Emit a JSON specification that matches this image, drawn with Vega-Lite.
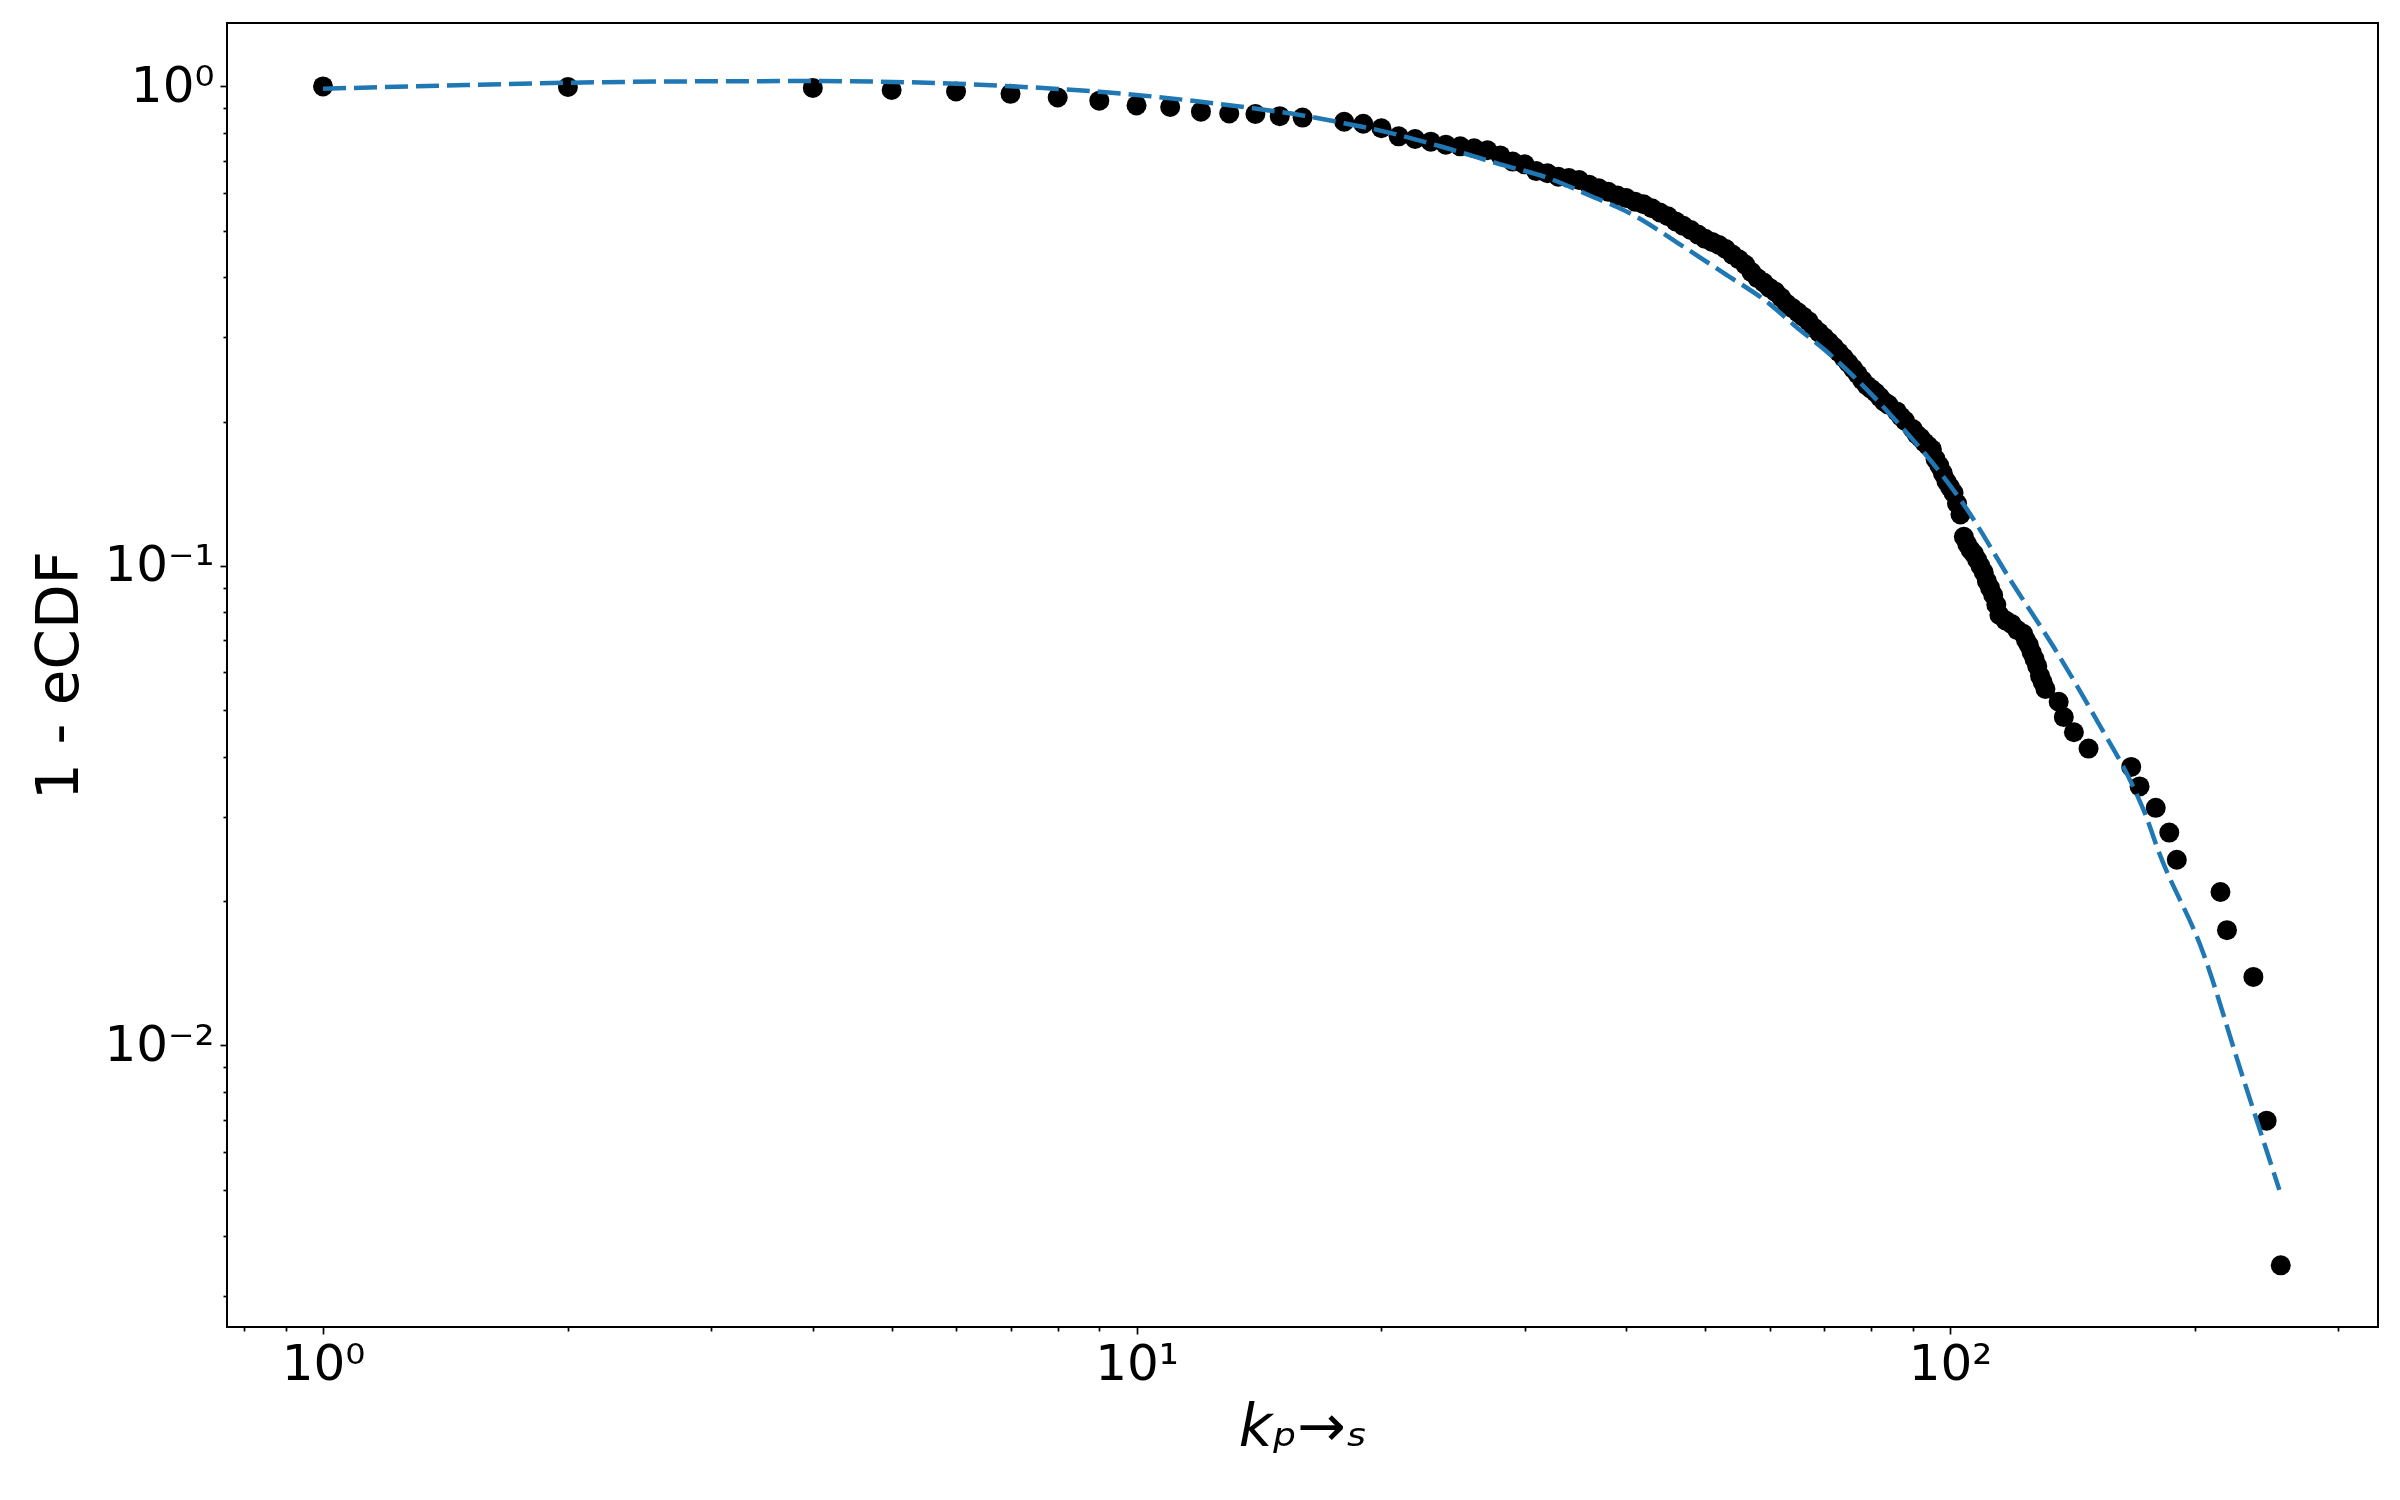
{
  "$schema": "https://vega.github.io/schema/vega-lite/v6.json",
  "width": 2151,
  "height": 1304,
  "autosize": {"type": "none"},
  "padding": {"left": 227, "top": 23, "right": 22, "bottom": 173},
  "background": "white",
  "config": {
    "view": {"stroke": "#000000", "strokeWidth": 2},
    "axis": {
      "grid": false,
      "domain": false,
      "labelFont": "DejaVu Sans",
      "titleFont": "DejaVu Sans",
      "labelColor": "black",
      "titleColor": "black",
      "tickColor": "black",
      "tickWidth": 1.7,
      "labelFontSize": 50,
      "titleFontSize": 58,
      "titleFontWeight": "normal",
      "labelOverlap": false,
      "labelBound": false,
      "labelFlush": false
    }
  },
  "datasets": {
    "points": [
      {"k": 1, "p": 1.0}, {"k": 2, "p": 0.997}, {"k": 4, "p": 0.993}, {"k": 5, "p": 0.983},
      {"k": 6, "p": 0.976}, {"k": 7, "p": 0.965}, {"k": 8, "p": 0.948}, {"k": 9, "p": 0.934},
      {"k": 10, "p": 0.913}, {"k": 11, "p": 0.906}, {"k": 12, "p": 0.886}, {"k": 13, "p": 0.878},
      {"k": 14, "p": 0.876}, {"k": 15, "p": 0.867}, {"k": 16, "p": 0.861}, {"k": 18, "p": 0.844},
      {"k": 19, "p": 0.836}, {"k": 20, "p": 0.818}, {"k": 21, "p": 0.787}, {"k": 22, "p": 0.777},
      {"k": 23, "p": 0.767}, {"k": 24, "p": 0.756}, {"k": 25, "p": 0.750}, {"k": 26, "p": 0.743},
      {"k": 27, "p": 0.736}, {"k": 28, "p": 0.718}, {"k": 29, "p": 0.697}, {"k": 30, "p": 0.688},
      {"k": 31, "p": 0.666}, {"k": 32, "p": 0.659}, {"k": 33, "p": 0.648}, {"k": 34, "p": 0.644},
      {"k": 35, "p": 0.638}, {"k": 36, "p": 0.624}, {"k": 37, "p": 0.613}, {"k": 38, "p": 0.603},
      {"k": 39, "p": 0.592}, {"k": 40, "p": 0.585}, {"k": 41, "p": 0.575}, {"k": 42, "p": 0.568},
      {"k": 43, "p": 0.557}, {"k": 44, "p": 0.546}, {"k": 45, "p": 0.536}, {"k": 46, "p": 0.523},
      {"k": 47, "p": 0.512}, {"k": 48, "p": 0.502}, {"k": 49, "p": 0.491}, {"k": 50, "p": 0.481},
      {"k": 51, "p": 0.474}, {"k": 52, "p": 0.467}, {"k": 53, "p": 0.458}, {"k": 54, "p": 0.446},
      {"k": 55, "p": 0.436}, {"k": 56, "p": 0.425}, {"k": 57, "p": 0.410}, {"k": 58, "p": 0.398},
      {"k": 59, "p": 0.390}, {"k": 60, "p": 0.380}, {"k": 61, "p": 0.373}, {"k": 62, "p": 0.363},
      {"k": 63, "p": 0.352}, {"k": 64, "p": 0.345}, {"k": 65, "p": 0.338}, {"k": 66, "p": 0.331},
      {"k": 67, "p": 0.324}, {"k": 68, "p": 0.314}, {"k": 69, "p": 0.307}, {"k": 70, "p": 0.300},
      {"k": 71, "p": 0.293}, {"k": 72, "p": 0.286}, {"k": 73, "p": 0.279}, {"k": 74, "p": 0.272},
      {"k": 75, "p": 0.265}, {"k": 76, "p": 0.258}, {"k": 77, "p": 0.251}, {"k": 78, "p": 0.244},
      {"k": 79, "p": 0.238}, {"k": 80, "p": 0.234}, {"k": 81, "p": 0.230}, {"k": 82, "p": 0.225},
      {"k": 83, "p": 0.220}, {"k": 84, "p": 0.217}, {"k": 86, "p": 0.210}, {"k": 87, "p": 0.205},
      {"k": 88, "p": 0.201}, {"k": 90, "p": 0.193}, {"k": 91, "p": 0.188}, {"k": 92, "p": 0.185},
      {"k": 93, "p": 0.181}, {"k": 94, "p": 0.178}, {"k": 95, "p": 0.175}, {"k": 96, "p": 0.167},
      {"k": 97, "p": 0.162}, {"k": 98, "p": 0.156}, {"k": 99, "p": 0.150}, {"k": 100, "p": 0.146},
      {"k": 101, "p": 0.142}, {"k": 102, "p": 0.135}, {"k": 103, "p": 0.128}, {"k": 104, "p": 0.115},
      {"k": 105, "p": 0.111}, {"k": 106, "p": 0.108}, {"k": 107, "p": 0.106}, {"k": 108, "p": 0.103},
      {"k": 109, "p": 0.100}, {"k": 110, "p": 0.097}, {"k": 111, "p": 0.093}, {"k": 112, "p": 0.090},
      {"k": 113, "p": 0.087}, {"k": 114, "p": 0.083}, {"k": 115, "p": 0.079}, {"k": 117, "p": 0.077},
      {"k": 119, "p": 0.0757}, {"k": 121, "p": 0.0735}, {"k": 123, "p": 0.0722}, {"k": 124, "p": 0.070},
      {"k": 125, "p": 0.0684}, {"k": 126, "p": 0.066}, {"k": 127, "p": 0.064}, {"k": 128, "p": 0.0618},
      {"k": 129, "p": 0.059}, {"k": 130, "p": 0.0572}, {"k": 131, "p": 0.0554}, {"k": 136, "p": 0.0521},
      {"k": 138, "p": 0.0484}, {"k": 142, "p": 0.045}, {"k": 148, "p": 0.0416}, {"k": 167, "p": 0.0381},
      {"k": 171, "p": 0.0347}, {"k": 179, "p": 0.0313}, {"k": 186, "p": 0.0278}, {"k": 190, "p": 0.0244},
      {"k": 215, "p": 0.0209}, {"k": 219, "p": 0.0174}, {"k": 236, "p": 0.0139}, {"k": 245, "p": 0.00697},
      {"k": 255, "p": 0.00348}
    ],
    "fit": [
      {"k": 1, "p": 0.989}, {"k": 1.5, "p": 1.007}, {"k": 2, "p": 1.018}, {"k": 3, "p": 1.025},
      {"k": 4, "p": 1.026}, {"k": 5, "p": 1.022}, {"k": 6, "p": 1.013}, {"k": 7, "p": 1.001},
      {"k": 8, "p": 0.988}, {"k": 9, "p": 0.975}, {"k": 10, "p": 0.960}, {"k": 12, "p": 0.929},
      {"k": 14, "p": 0.899}, {"k": 16, "p": 0.870}, {"k": 18, "p": 0.838}, {"k": 20, "p": 0.808},
      {"k": 23.5, "p": 0.752}, {"k": 28, "p": 0.688}, {"k": 32, "p": 0.645}, {"k": 36, "p": 0.593},
      {"k": 41, "p": 0.537}, {"k": 46.5, "p": 0.469}, {"k": 52.6, "p": 0.409}, {"k": 60, "p": 0.352},
      {"k": 65, "p": 0.313}, {"k": 70, "p": 0.283}, {"k": 84, "p": 0.209}, {"k": 105, "p": 0.131},
      {"k": 119, "p": 0.0927}, {"k": 134.5, "p": 0.0672}, {"k": 152, "p": 0.0472}, {"k": 168, "p": 0.0346},
      {"k": 174, "p": 0.0302}, {"k": 180, "p": 0.0257}, {"k": 205, "p": 0.0155}, {"k": 228, "p": 0.0088},
      {"k": 254, "p": 0.005}
    ]
  },
  "encoding": {
    "x": {
      "field": "k",
      "type": "quantitative",
      "scale": {"type": "log", "domain": [0.762, 335.8], "nice": false, "zero": false},
      "axis": {
        "title": "kₚ→ₛ",
        "titleFontStyle": "italic",
        "titlePadding": 10,
        "values": [0.8, 0.9, 1, 2, 3, 4, 5, 6, 7, 8, 9, 10, 20, 30, 40, 50, 60, 70, 80, 90, 100, 200, 300],
        "labelExpr": "datum.value == 1 ? '10⁰' : datum.value == 10 ? '10¹' : datum.value == 100 ? '10²' : ''",
        "tickSize": {"condition": {"test": "datum.value == 1 || datum.value == 10 || datum.value == 100", "value": 7}, "value": 4},
        "labelPadding": 5
      }
    },
    "y": {
      "field": "p",
      "type": "quantitative",
      "scale": {"type": "log", "domain": [0.002588, 1.356], "nice": false, "zero": false},
      "axis": {
        "title": "1 - eCDF",
        "titlePadding": 14,
        "values": [0.003, 0.004, 0.005, 0.006, 0.007, 0.008, 0.009, 0.01, 0.02, 0.03, 0.04, 0.05, 0.06, 0.07, 0.08, 0.09, 0.1, 0.2, 0.3, 0.4, 0.5, 0.6, 0.7, 0.8, 0.9, 1],
        "labelExpr": "datum.value == 1 ? '10⁰' : datum.value == 0.1 ? '10⁻¹' : datum.value == 0.01 ? '10⁻²' : ''",
        "tickSize": {"condition": {"test": "datum.value == 1 || datum.value == 0.1 || datum.value == 0.01", "value": 7}, "value": 4},
        "labelPadding": 6
      }
    }
  },
  "layer": [
    {
      "data": {"name": "points"},
      "mark": {"type": "point", "filled": true, "shape": "circle", "size": 400, "color": "black", "opacity": 1}
    },
    {
      "data": {"name": "fit"},
      "mark": {"type": "line", "color": "#1f77b4", "strokeWidth": 4.5, "strokeDash": [23, 8], "interpolate": "monotone"}
    }
  ]
}
